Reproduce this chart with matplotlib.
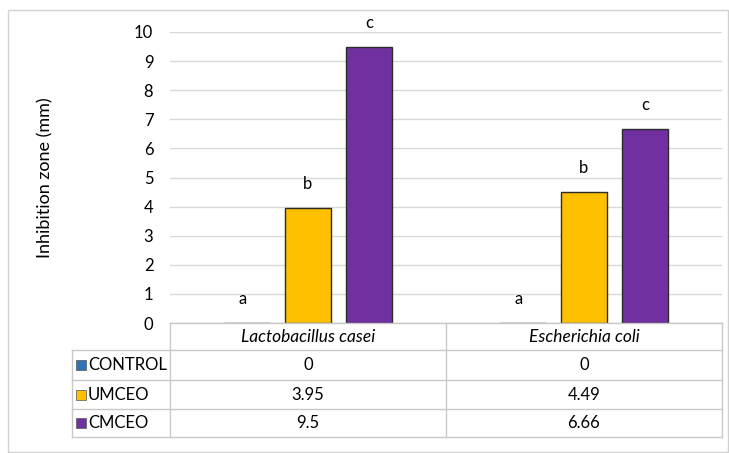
import matplotlib.pyplot as plt
from matplotlib.lines import Line2D
from matplotlib.patches import Rectangle
import numpy as np

plt.rcParams['font.family'] = ['Lato', 'DejaVu Sans']

categories = ['Lactobacillus casei', 'Escherichia coli']
series = ['CONTROL', 'UMCEO', 'CMCEO']
control = [0, 0]
umceo = [3.95, 4.49]
cmceo = [9.5, 6.66]
letters = [['a', 'a'], ['b', 'b'], ['c', 'c']]
colors = ['#2E75B6', '#FFC000', '#7030A0']

W, H = 729, 453
fig = plt.figure(figsize=(W / 100, H / 100), dpi=100)


def fx(px):
    return px / W


def fy(py):
    return 1 - py / H


# outer frame
fig.add_artist(Rectangle((fx(8), fy(452)), fx(720), fy(10) - fy(452),
                         transform=fig.transFigure, fill=False, edgecolor='#D0D0D0', lw=1))

left, right, top, bottom = 170, 722, 32, 323
ax = fig.add_axes([fx(left), fy(bottom), fx(right - left), fy(top) - fy(bottom)])
ax.set_xlim(-0.5, 1.5)
ax.set_ylim(0, 10)
ax.set_yticks(range(0, 11))
ax.yaxis.grid(True, color='#D9D9D9', lw=1)
ax.set_axisbelow(True)
for s in ax.spines.values():
    s.set_visible(False)
ax.tick_params(axis='y', length=0, pad=12, labelsize=12)
ax.set_xticks([])

x = np.arange(len(categories))
step, bw = 0.221, 0.167
values = [control, umceo, cmceo]
for i, (vals, c) in enumerate(zip(values, colors)):
    pos = x + (i - 1) * step
    ax.bar(pos, vals, width=bw, color=c, edgecolor='#2B2B2B', lw=1)
    for p, v, lab in zip(pos, vals, letters[i]):
        ax.text(p - (0.015 if v == 0 else 0), v + 0.55, lab, ha='center', va='bottom', fontsize=12)

fig.text(fx(45), fy(178), 'Inhibition zone (mm)', rotation=90, ha='center', va='center', fontsize=13)

# data table below the plot
gray = '#C8C8C8'
col_x = [72, 170, 446, 722]
row_y = [323, 350, 380, 409, 437]


def hline(y, x0, x1):
    fig.add_artist(Line2D([fx(x0), fx(x1)], [fy(y), fy(y)], transform=fig.transFigure, color=gray, lw=1))


def vline(xp, y0, y1):
    fig.add_artist(Line2D([fx(xp), fx(xp)], [fy(y0), fy(y1)], transform=fig.transFigure, color=gray, lw=1))


hline(row_y[0], col_x[1], col_x[3])
for y in row_y[1:]:
    hline(y, col_x[0], col_x[3])
vline(col_x[0], row_y[1], row_y[-1])
for xp in col_x[1:]:
    vline(xp, row_y[0], row_y[-1])

for j, cat in enumerate(categories):
    cx = (col_x[j + 1] + col_x[j + 2]) / 2
    fig.text(fx(cx), fy((row_y[0] + row_y[1]) / 2), cat, ha='center', va='center',
             fontsize=12.5, style='italic')
    for i, vals in enumerate(values):
        fig.text(fx(cx), fy((row_y[i + 1] + row_y[i + 2]) / 2), f'{vals[j]:g}',
                 ha='center', va='center', fontsize=12)

for i, (name, c) in enumerate(zip(series, colors)):
    cy = (row_y[i + 1] + row_y[i + 2]) / 2
    fig.add_artist(Rectangle((fx(76), fy(cy + 5)), fx(10), fy(cy - 5) - fy(cy + 5),
                             transform=fig.transFigure, facecolor=c, edgecolor='#555555', lw=0.5))
    fig.text(fx(88), fy(cy), name, ha='left', va='center', fontsize=12)

fig.savefig('out.png', dpi=100)
